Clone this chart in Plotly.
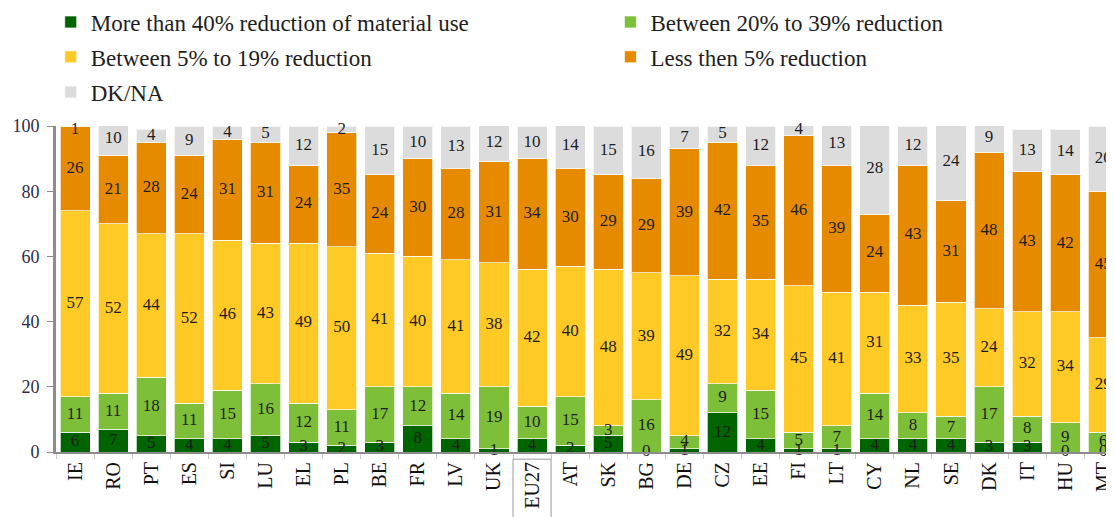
import plotly.graph_objects as go

countries = ["IE", "RO", "PT", "ES", "SI", "LU", "EL", "PL", "BE", "FR", "LV", "UK", "EU27", "AT",
             "SK", "BG", "DE", "CZ", "EE", "FI", "LT", "CY", "NL", "SE", "DK", "IT", "HU", "MT"]

more_40 = [6, 7, 5, 4, 4, 5, 3, 2, 3, 8, 4, 1, 4, 2, 5, 0, 1, 12, 4, 1, 1, 4, 4, 4, 3, 3, 0, 0]
btw_20_39 = [11, 11, 18, 11, 15, 16, 12, 11, 17, 12, 14, 19, 10, 15, 3, 16, 4, 9, 15, 5, 7, 14, 8, 7, 17, 8, 9, 6]
btw_5_19 = [57, 52, 44, 52, 46, 43, 49, 50, 41, 40, 41, 38, 42, 40, 48, 39, 49, 32, 34, 45, 41, 31, 33, 35, 24, 32, 34, 29]
less_5 = [26, 21, 28, 24, 31, 31, 24, 35, 24, 30, 28, 31, 34, 30, 29, 29, 39, 42, 35, 46, 39, 24, 43, 31, 48, 43, 42, 45]
dk_na = [1, 10, 4, 9, 4, 5, 12, 2, 15, 10, 13, 12, 10, 14, 15, 16, 7, 5, 12, 4, 13, 28, 12, 24, 9, 13, 14, 20]

series = [
    ("More than 40% reduction of material use", more_40, "#006400", "legend"),
    ("Between 20% to 39% reduction", btw_20_39, "#7dbf38", "legend2"),
    ("Between 5% to 19% reduction", btw_5_19, "#ffc926", "legend3"),
    ("Less then 5% reduction", less_5, "#e68a00", "legend4"),
    ("DK/NA", dk_na, "#dcdcdc", "legend5"),
]

SERIF = "Liberation Serif"

fig = go.Figure()
base = [0] * len(countries)
for name, vals, color, leg in series:
    fig.add_trace(go.Bar(
        x=countries, y=vals, name=name, legend=leg,
        marker=dict(color=color, line=dict(color="rgba(255,255,255,0.7)", width=1)),
        hoverinfo="skip",
    ))
    # value labels in the middle of each segment (kept inside the 0-100 axis)
    mids = [min(b + v / 2, 98.8) for b, v in zip(base, vals)]
    fig.add_trace(go.Scatter(
        x=countries, y=mids, mode="text", text=[str(v) for v in vals],
        textfont=dict(family=SERIF, size=17, color="#1e1e1e"),
        showlegend=False, hoverinfo="skip", cliponaxis=False,
    ))
    base = [b + v for b, v in zip(base, vals)]

# box around the EU27 label
fig.add_shape(type="rect", xref="x", yref="paper", x0=11.5, x1=12.5, y0=-0.022, y1=-0.25,
              line=dict(color="#9a9a9a", width=1))

# one legend per entry, laid out as a 2-column grid above the plot
leg = dict(orientation="h", xanchor="left", yanchor="middle",
           font=dict(family=SERIF, size=23, color="#1e1e1e"),
           bgcolor="rgba(0,0,0,0)", itemclick=False)
col1, col2 = -0.005, 0.524
row1, row2, row3 = 1.319, 1.212, 1.104

fig.update_layout(
    barmode="stack", bargap=0.21,
    width=1106, height=509,
    margin=dict(l=48, r=0, t=118, b=65, autoexpand=False),
    paper_bgcolor="white", plot_bgcolor="white",
    font=dict(family=SERIF, color="#1e1e1e"),
    legend=dict(leg, x=col1, y=row1),
    legend2=dict(leg, x=col2, y=row1),
    legend3=dict(leg, x=col1, y=row2),
    legend4=dict(leg, x=col2, y=row2),
    legend5=dict(leg, x=col1, y=row3),
    xaxis=dict(range=[-0.5, 27.28], showgrid=False, zeroline=False,
               showline=True, linecolor="#8c8c8c", linewidth=2,
               ticks="outside", tickson="boundaries", ticklen=5, tickcolor="#c8c8c8",
               tickangle=-90, tickfont=dict(family=SERIF, size=20, color="#111111")),
    yaxis=dict(range=[0, 100], dtick=20, showgrid=False, zeroline=False,
               showline=True, linecolor="#8c8c8c", linewidth=3,
               ticks="outside", ticklen=6, tickcolor="#8c8c8c", ticklabelstandoff=4,
               tickfont=dict(family=SERIF, size=18, color="#2c2c4a")),
)

fig.write_html("out.html")
